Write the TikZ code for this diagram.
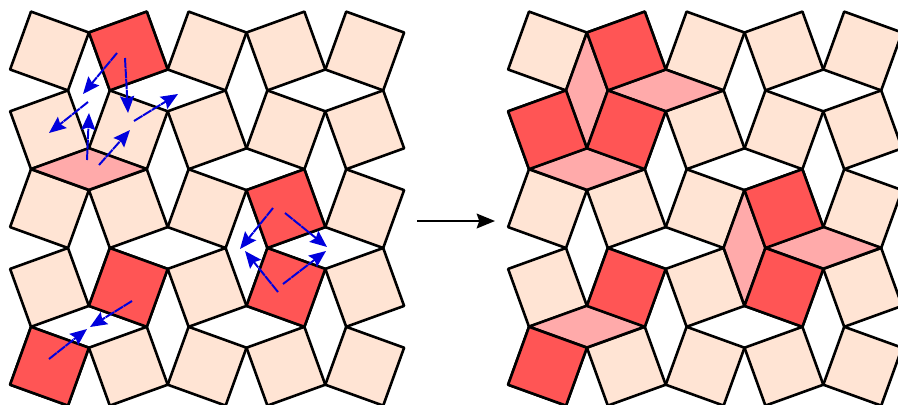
\documentclass[tikz,border=0pt]{standalone}
\usepackage{tikz}
\usetikzlibrary{arrows.meta}

\definecolor{tilepeach}{HTML}{FFE4D4}
\definecolor{tilered}{HTML}{FF5555}
\definecolor{gappink}{HTML}{FFAAAA}
\definecolor{moveblue}{HTML}{0000DD}

\tikzset{
  edge/.style={black,line width=1.85pt,line join=round},
  plain/.style={edge,fill=tilepeach},
  flipped/.style={edge,fill=tilered},
  gap/.style={edge,fill=gappink},
  move/.style={moveblue,line width=1.4pt,dash pattern=on 7pt off 0.5pt,
    -{Stealth[length=12pt,width=10pt,inset=1.8pt]}},
  maparrow/.style={black,line width=1.5pt,
    -{Stealth[length=13pt,width=10.5pt,inset=1.8pt]}}
}

% square tile: column, row, style
\newcommand{\tile}[3]{
  \pgfmathsetmacro{\turn}{ifthenelse(mod(#1+#2,2)==0,1,-1)}
  \draw[#3,shift={(49.5+78.8*#1,51+78.8*#2)},xscale=\turn]
    (-18.5,-39.4)--(39.4,-18.5)--(18.5,39.4)--(-39.4,18.5)--cycle;
}
% pink gaps, given by their centre
\newcommand{\widegap}[2]{
  \draw[gap] (#1-57.9,#2)--(#1,#2-20.9)--(#1+57.9,#2)--(#1,#2+20.9)--cycle;
}
\newcommand{\tallgap}[2]{
  \draw[gap] (#1,#2-57.9)--(#1+20.9,#2)--(#1,#2+57.9)--(#1-20.9,#2)--cycle;
}
\newcommand{\alltiles}{
  \foreach \col in {0,...,4}{
    \foreach \row in {0,...,4}{
      \tile{\col}{\row}{plain}
    }
  }
}

\begin{document}
\begin{tikzpicture}[x=0.025cm,y=-0.025cm]
\useasboundingbox (0,0) rectangle (898,404);
\clip (0,0) rectangle (898,404);

% left tiling
\alltiles
\widegap{88.9}{169}
\tile{1}{0}{flipped}
\tile{3}{2}{flipped}
\tile{3}{3}{flipped}
\tile{1}{3}{flipped}
\tile{0}{4}{flipped}

% moves
\coordinate (A1) at (117,53);
\coordinate (B1) at (83,94);
\coordinate (A2) at (125,58);
\coordinate (B2) at (128,113);
\coordinate (A3) at (88,102);
\coordinate (B3) at (49,133);
\coordinate (A4) at (87,160);
\coordinate (B4) at (89,113);
\coordinate (A5) at (99,165);
\coordinate (B5) at (130,130);
\coordinate (A6) at (134,121);
\coordinate (B6) at (178,94);
\coordinate (A7) at (273,208);
\coordinate (B7) at (240,249);
\coordinate (A8) at (285,213);
\coordinate (B8) at (327,247);
\coordinate (A9) at (278,292);
\coordinate (B9) at (245,251);
\coordinate (A10) at (283,284);
\coordinate (B10) at (326,251);
\coordinate (A11) at (132,301);
\coordinate (B11) at (90,327);
\coordinate (A12) at (49,359);
\coordinate (B12) at (87,329);
\foreach \i in {1,...,12}{
  \draw[move] (A\i)--(B\i);
}

% map between the tilings
\coordinate (P) at (417,221);
\coordinate (Q) at (495,221);
\draw[maparrow] (P)--(Q);

% right tiling
\begin{scope}[shift={(498,0)}]
\alltiles
\tallgap{88.9}{90.4}
\widegap{167.7}{90.4}
\widegap{88.9}{169}
\tallgap{246.5}{247.8}
\widegap{325.3}{247.8}
\widegap{88.9}{326.6}
\tile{1}{0}{flipped}
\tile{0}{1}{flipped}
\tile{1}{1}{flipped}
\tile{3}{2}{flipped}
\tile{3}{3}{flipped}
\tile{1}{3}{flipped}
\tile{0}{4}{flipped}
\end{scope}
\end{tikzpicture}
\end{document}
